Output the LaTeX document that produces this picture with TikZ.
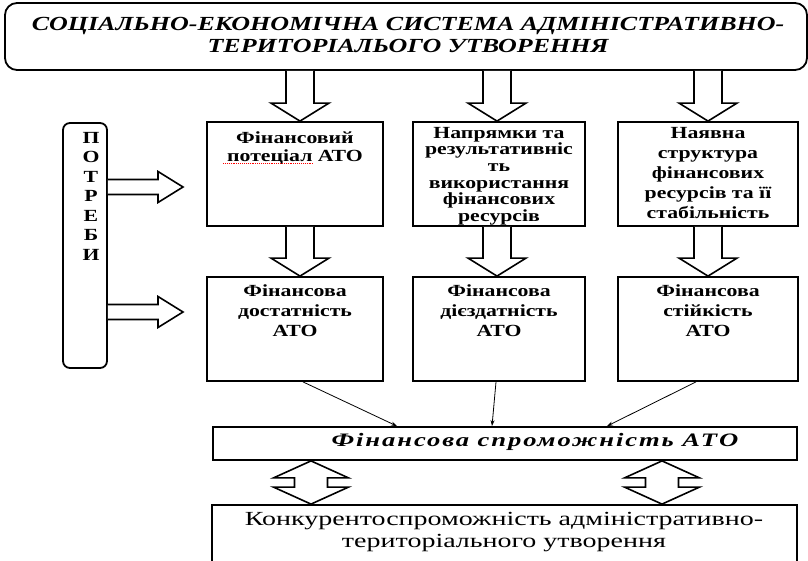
\documentclass[tikz,border=0pt]{standalone}
\usepackage{fontspec}
\setmainfont{Liberation Serif}
\newfontfamily\wideserif[FakeStretch=1.28]{Liberation Serif}
\newfontfamily\titleserif[FakeStretch=1.3]{Liberation Serif}
\newfontfamily\bottomserif[FakeStretch=1.4]{Liberation Serif}
\newfontfamily\capserif[FakeStretch=1.4,LetterSpace=10]{Liberation Serif}
\usetikzlibrary{calc,arrows.meta}
\tikzset{
  box/.style={draw, line width=1.8pt, inner sep=0pt},
  txt/.style={inner sep=0pt, align=center, anchor=north},
  boxtext/.style={txt, font=\wideserif\fontsize{17}{20}\selectfont\bfseries},
  blockarrow/.style={draw, line width=1.6pt, line join=miter, fill=white},
  thinarrow/.style={draw, line width=0.8pt, -{Stealth[length=6pt,width=4pt]}},
}
\newcommand\vblock[2]{%
  \draw[blockarrow] let \p1=#1, \p2=#2 in
    (\x1-14pt,\y1) -- (\x1-14pt,\y2+18pt) -- (\x1-29pt,\y2+18pt) -- (\x1,\y2)
    -- (\x1+29pt,\y2+18pt) -- (\x1+14pt,\y2+18pt) -- (\x1+14pt,\y1);}
\newcommand\hblock[2]{%
  \draw[blockarrow] let \p1=#1, \p2=#2 in
    (\x1,\y1+7.5pt) -- (\x2-25pt,\y1+7.5pt) -- (\x2-25pt,\y1+15.5pt) -- (\x2,\y1)
    -- (\x2-25pt,\y1-15.5pt) -- (\x2-25pt,\y1-7.5pt) -- (\x1,\y1-7.5pt);}
\newcommand\dblock[2]{%
  \draw[blockarrow] let \p1=#1, \p2=#2 in
    (\x1,\y1) -- (\x1+37.5pt,\y1-17pt) -- (\x1+16.5pt,\y1-17pt) -- (\x1+16.5pt,\y2+17pt)
    -- (\x1+37.5pt,\y2+17pt) -- (\x1,\y2) -- (\x1-37.5pt,\y2+17pt) -- (\x1-16.5pt,\y2+17pt)
    -- (\x1-16.5pt,\y1-17pt) -- (\x1-37.5pt,\y1-17pt) -- cycle;}
\begin{document}
\begin{tikzpicture}[x=1pt,y=-1pt]
\useasboundingbox (0,0) rectangle (808,561);
% top box
\node[box, rounded corners=12pt, minimum width=802pt, minimum height=67pt] (top) at (406,36.5) {};
\node[txt, font=\titleserif\fontsize{20}{21.5}\selectfont\bfseries\itshape] (toptxt) at (408,17.5)
  {СОЦІАЛЬНО-ЕКОНОМІЧНА СИСТЕМА АДМІНІСТРАТИВНО-\\ТЕРИТОРІАЛЬОГО УТВОРЕННЯ};
% needs box
\node[box, rounded corners=7pt, minimum width=44pt, minimum height=245pt] (need) at (85,245.5) {};
\node[txt, font=\wideserif\fontsize{17}{19.5}\selectfont\bfseries] (needtxt) at (91,132) {П\\О\\Т\\Р\\Е\\Б\\И};
% row 1
\node[box, minimum width=176pt, minimum height=104pt] (A) at (295,174) {};
\node[box, minimum width=172pt, minimum height=104pt] (B) at (499,174) {};
\node[box, minimum width=180pt, minimum height=104pt] (C) at (708,174) {};
\node[boxtext, font=\wideserif\fontsize{17}{17.5}\selectfont\bfseries] (Atxt) at (295,132) {Фінансовий\\потеціал АТО};
\node[boxtext, font=\wideserif\fontsize{17}{16.6}\selectfont\bfseries] (Btxt) at (499,127) {Напрямки та\\результативніс\\ть\\використання\\фінансових\\ресурсів};
\node[boxtext] (Ctxt) at (708,127) {Наявна\\структура\\фінансових\\ресурсів та її\\стабільність};
\draw[red, densely dotted, line width=0.9pt] (223,163) -- (313,163);
% row 2
\node[box, minimum width=176pt, minimum height=104pt] (A2) at (295,329) {};
\node[box, minimum width=172pt, minimum height=104pt] (B2) at (499,329) {};
\node[box, minimum width=180pt, minimum height=104pt] (C2) at (708,329) {};
\node[boxtext] (A2txt) at (295,285) {Фінансова\\достатність\\АТО};
\node[boxtext] (B2txt) at (499,285) {Фінансова\\дієздатність\\АТО};
\node[boxtext] (C2txt) at (708,285) {Фінансова\\стійкість\\АТО};
% capability box
\node[box, minimum width=584pt, minimum height=33pt] (S) at (505,443.5) {};
\node[inner sep=0pt, font=\capserif\fontsize{19}{21}\selectfont\bfseries\itshape] (Stxt) at (535,442) {Фінансова спроможність АТО};
% competitiveness box
\node[box, minimum width=585pt, minimum height=70pt] (K) at (504.5,540) {};
\node[txt, font=\bottomserif\fontsize{20}{22}\selectfont] (Ktxt) at (504,512) {Конкурентоспроможність адміністративно-\\територіального утворення};
% block arrows
\coordinate (n1) at (183,187);
\coordinate (n2) at (183,312);
\vblock{(top.south -| 300,0)}{(A.north -| 300,0)}
\vblock{(top.south -| 497,0)}{(B.north -| 497,0)}
\vblock{(top.south -| 708,0)}{(C.north -| 708,0)}
\vblock{(A.south -| 300,0)}{(A2.north -| 300,0)}
\vblock{(B.south -| 497,0)}{(B2.north -| 497,0)}
\vblock{(C.south -| 708,0)}{(C2.north -| 708,0)}
\hblock{(need.east |- n1)}{(n1)}
\hblock{(need.east |- n2)}{(n2)}
\dblock{(S.south -| 311,0)}{(K.north -| 311,0)}
\dblock{(S.south -| 662,0)}{(K.north -| 662,0)}
% thin arrows
\draw[thinarrow] (A2.south -| 303,0) -- (S.north -| 397,0);
\draw[thinarrow] (B2.south -| 496,0) -- (S.north -| 492,0);
\draw[thinarrow] (C2.south -| 696,0) -- (S.north -| 607,0);
\end{tikzpicture}
\end{document}
